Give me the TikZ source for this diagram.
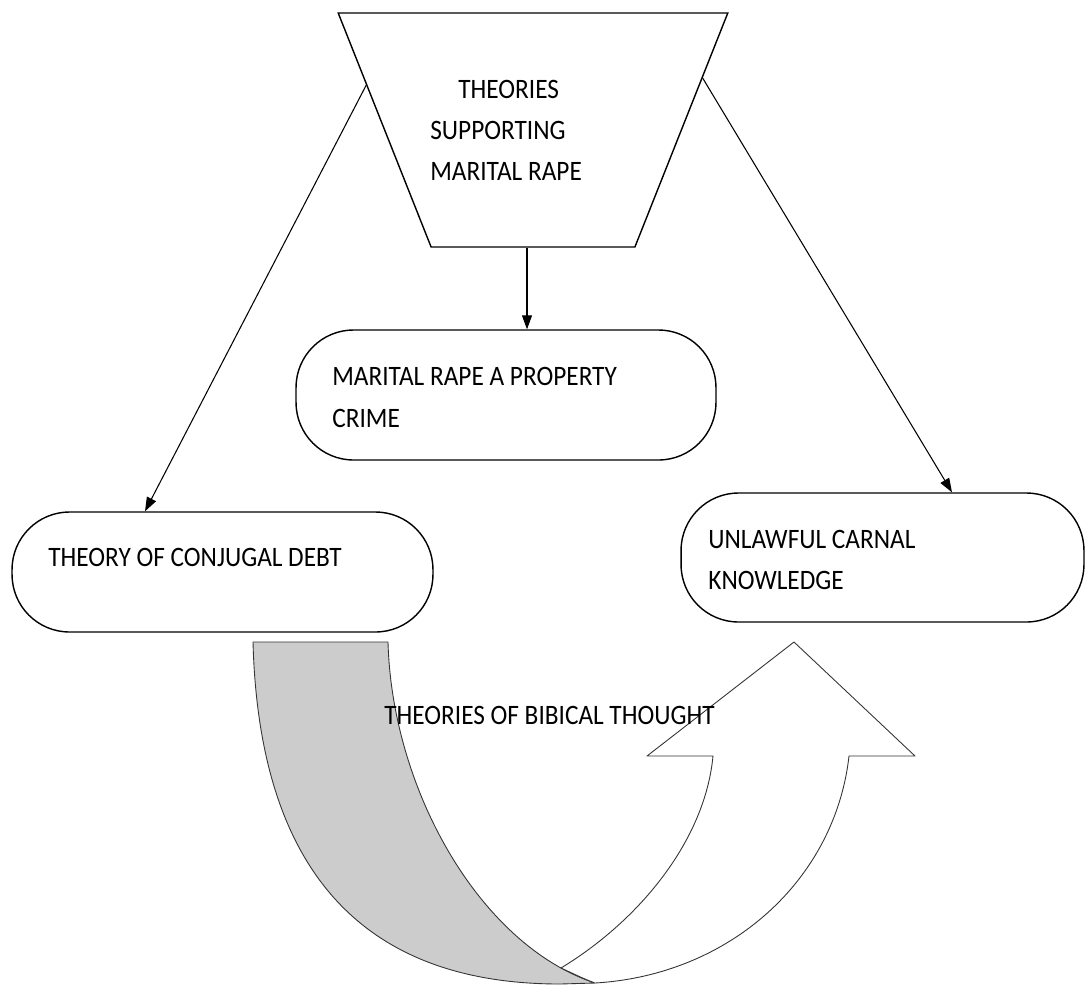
\documentclass[tikz,border=0pt]{standalone}
\usepackage{fontspec}
\setmainfont{Carlito}[FakeStretch=0.9]
\usetikzlibrary{arrows.meta,shapes.geometric}

\tikzset{
  box/.style={draw, line width=0.8pt, rounded corners=1.15cm, minimum width=8.4cm, minimum height=2.6cm},
  lbl/.style={anchor=west, align=left, inner sep=0pt, font=\fontsize{16}{23.5}\selectfont},
  arr/.style={-{Triangle[length=2.8mm,width=2mm]}, line width=0.6pt},
  uturn/.style={line width=0.5pt, draw=black!80, line join=round},
}

\begin{document}
\begin{tikzpicture}[x=0.02cm, y=-0.02cm]
\useasboundingbox (0,0) rectangle (1085,985);

% u-turn arrow, back part
\filldraw[uturn, fill=black!20] (253,642) -- (388,642)
  .. controls (392,790) and (480,945) .. (595,983)
  -- (560,984) .. controls (330,984) and (258,830) .. (253,642) -- cycle;
% u-turn arrow, front part
\filldraw[uturn, fill=white] (561,968)
  .. controls (640,920) and (705,840) .. (713,756)
  -- (647,756) -- (794,642) -- (915,756) -- (849,756)
  .. controls (835,880) and (730,975) .. (595,983)
  .. controls (584,979) and (572,973) .. (561,968) -- cycle;

\node[trapezium, draw, line width=0.8pt, shape border rotate=180, trapezium angle=65.5,
  trapezium stretches=true, minimum width=7.8cm, minimum height=4.68cm] (T) at (533,130) {};
\node[box] (M) at (506,395) {};
\node[box, minimum width=8.42cm, minimum height=2.4cm] (L) at (222.5,572) {};
\node[box, minimum width=8.06cm, minimum height=2.58cm] (R) at (882.5,557.5) {};

\node[lbl] (Ttext) at (430,130.5) {\hspace*{5.6mm}THEORIES\\SUPPORTING\\MARITAL RAPE};
\node[lbl] (Mtext) at (332,397.5) {MARITAL RAPE A PROPERTY\\CRIME};
\node[lbl] (Ltext) at (48,557) {THEORY OF CONJUGAL DEBT};
\node[lbl] (Rtext) at (708,560) {UNLAWFUL CARNAL\\KNOWLEDGE};
\node[lbl] (Utext) at (384,715) {THEORIES OF BIBICAL THOUGHT};

\coordinate (Tb) at ([xshift=-1.2mm]T.south);
\draw[arr] (T.165) -- ([xshift=-1.55cm]L.north);
\draw[arr] (T.17) -- ([xshift=1.39cm]R.north);
\draw[arr] (Tb) -- (Tb |- M.north);
\end{tikzpicture}
\end{document}
